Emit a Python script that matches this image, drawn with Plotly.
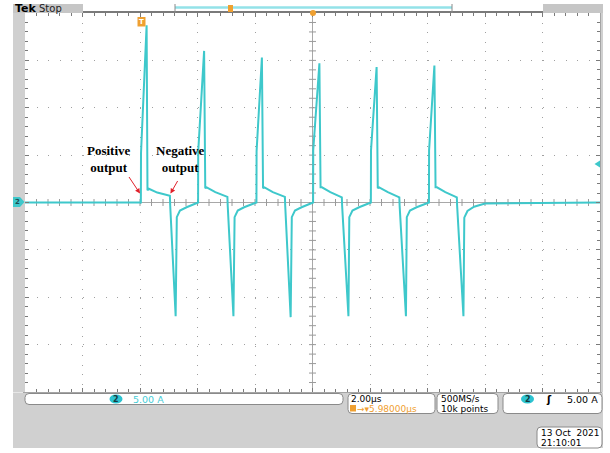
import plotly.graph_objects as go

W, H = 610, 453

# ---------------- data (read from the screen) ----------------
# time in µs measured from the left edge of the screen (2.00 µs/div, 10 div)
# current in A (5.00 A/div, 8 div, centre = 0 A)
t_us = [0.00, 4.03, 4.035, 4.23, 4.26, 4.31, 4.60, 5.04, 5.05, 5.24, 5.28, 5.39, 5.62, 6.02,
        6.025, 6.23, 6.27, 6.32, 6.62, 7.04, 7.05, 7.25, 7.29, 7.40, 7.62, 8.05,
        8.055, 8.24, 8.28, 8.33, 8.62, 9.04, 9.05, 9.24, 9.28, 9.39, 9.62, 10.02,
        10.025, 10.24, 10.28, 10.33, 10.62, 11.02, 11.03, 11.25, 11.28, 11.39, 11.62, 12.03,
        12.035, 12.23, 12.27, 12.32, 12.62, 13.02, 13.03, 13.25, 13.28, 13.39, 13.62, 14.05,
        14.055, 14.24, 14.28, 14.33, 14.62, 15.02, 15.03, 15.25, 15.28, 15.39, 15.62, 16.0, 20.0]
i_A = [0.0, 0.0, 5.2, 18.7, 1.3, 1.45, 1.05, 0.7, -0.3, -12.0, -1.55, -0.85, -0.5, 0.0,
       5.4, 16.0, 1.5, 1.6, 1.1, 0.6, -0.3, -12.0, -1.55, -0.85, -0.5, 0.0,
       5.4, 15.3, 1.5, 1.6, 1.1, 0.6, -0.3, -12.1, -1.55, -0.85, -0.5, 0.0,
       5.5, 14.7, 1.6, 1.6, 1.1, 0.55, -0.3, -12.0, -1.55, -0.85, -0.5, 0.0,
       5.5, 14.3, 1.5, 1.6, 1.1, 0.55, -0.3, -12.0, -1.55, -0.85, -0.5, 0.0,
       5.5, 14.45, 1.6, 1.6, 1.1, 0.55, -0.3, -12.0, -1.6, -0.9, -0.45, -0.1, 0.0]

ch_scale_label = "5.00 A"
time_scale_label = "2.00µs"
trig_delay_label = "→▾5.98000µs"
sample_rate_label = "500MS/s"
record_label = "10k points"
trig_level_label = "5.00 A"
date_label = "13 Oct  2021"
time_label = "21:10:01"

# ---------------- helpers ----------------
def px(x):
    return x / W

def py(y):
    return 1 - y / H

GRAY = "#D0D0D0"
FRAME = "#7A7A7A"
CYAN = "#3EC8CB"
CYAN_TXT = "#45CCD6"
ORANGE = "#EFA031"

shapes = []
annotations = []

def rect(x0, y0, x1, y1, fill, line=None, lw=0):
    shapes.append(dict(type="rect", xref="paper", yref="paper",
                       x0=px(x0), x1=px(x1), y0=py(y1), y1=py(y0),
                       fillcolor=fill, line=dict(color=line or fill, width=lw), layer="above"))

def rrect(x0, y0, x1, y1, r=4, fill="white", line="#8A8A8A"):
    rx, ry = r / W, r / H
    X0, X1, Y0, Y1 = px(x0), px(x1), py(y0), py(y1)
    p = (f"M{X0+rx},{Y0} L{X1-rx},{Y0} Q{X1},{Y0} {X1},{Y0-ry} "
         f"L{X1},{Y1+ry} Q{X1},{Y1} {X1-rx},{Y1} L{X0+rx},{Y1} "
         f"Q{X0},{Y1} {X0},{Y1+ry} L{X0},{Y0-ry} Q{X0},{Y0} {X0+rx},{Y0} Z")
    shapes.append(dict(type="path", xref="paper", yref="paper", path=p,
                       fillcolor=fill, line=dict(color=line, width=1), layer="above"))

def line(x0, y0, x1, y1, color, w=1):
    shapes.append(dict(type="line", xref="paper", yref="paper",
                       x0=px(x0), x1=px(x1), y0=py(y0), y1=py(y1),
                       line=dict(color=color, width=w), layer="above"))

def text(x, y, s, size=10, color="black", xanchor="left", family="DejaVu Sans", bold=False):
    if bold:
        s = f"<b>{s}</b>"
    annotations.append(dict(xref="paper", yref="paper", x=px(x), y=py(y), text=s,
                            showarrow=False, xanchor=xanchor, yanchor="middle",
                            borderpad=0,
                            font=dict(family=family, size=size, color=color)))

# ---------------- frame (gray surround) ----------------
rect(13, 4, 83, 13, "#C6C6C6")
rect(543, 4, 603, 13, "#C6C6C6")
rect(13, 13, 25, 392, GRAY)
rect(600.5, 13, 603, 392, GRAY)
rect(13, 392.5, 603, 448, GRAY)

# top record bar
line(175, 7.5, 452, 7.5, "#93E2E8", 2.5)
line(175, 4, 175, 13, "#8A8A8A", 1)
line(452, 4, 452, 13, "#8A8A8A", 1)
rect(228, 5, 233, 12, ORANGE)
shapes.append(dict(type="circle", xref="paper", yref="paper",
                   x0=px(310), x1=px(316), y0=py(16), y1=py(10),
                   fillcolor=ORANGE, line=dict(color=ORANGE, width=0), layer="above"))
text(13.5, 8.5, "Tek", 11, "black", bold=True)
text(38, 8.5, "Stop", 10, "#222222")

# trigger 'T' marker on the graticule
rect(137.5, 17, 145.5, 26.5, ORANGE)
text(141.5, 21.8, "T", 7, "white", xanchor="center", bold=True)

# channel 2 ground marker (left) and trigger level marker (right)
shapes.append(dict(type="path", xref="paper", yref="paper",
                   path=f"M{px(13)},{py(197)} L{px(20)},{py(197)} L{px(24.5)},{py(202)} "
                        f"L{px(20)},{py(207)} L{px(13)},{py(207)} Z",
                   fillcolor=CYAN, line=dict(color=CYAN, width=0), layer="above"))
text(17, 202, "2", 7, "#1E4B50", xanchor="center", bold=True)
shapes.append(dict(type="path", xref="paper", yref="paper",
                   path=f"M{px(600)},{py(160.5)} L{px(594.5)},{py(164)} L{px(600)},{py(167.5)} Z",
                   fillcolor=CYAN, line=dict(color=CYAN, width=0), layer="above"))

# bottom read-out boxes
rrect(25, 393.5, 343, 404.5, 4)
shapes.append(dict(type="circle", xref="paper", yref="paper",
                   x0=px(109.5), x1=px(122.5), y0=py(403.5), y1=py(394.5),
                   fillcolor="#2DC3D0", line=dict(color="#2DC3D0", width=0), layer="above"))
text(116, 399.2, "2", 8, "#143A40", xanchor="center", bold=True)
text(132, 399.2, ch_scale_label, 9.5, CYAN_TXT)

rrect(348, 393.5, 435, 413.5, 4)
text(350, 398.5, time_scale_label, 9, "black")
rect(350, 405, 356, 411.5, ORANGE)
text(356, 408.5, trig_delay_label, 9, ORANGE)

rrect(437, 393.5, 498, 413.5, 4)
text(440, 398.5, sample_rate_label, 9, "black")
text(440, 408.5, record_label, 9, "black")

rrect(503, 393.5, 602, 413.5, 4)
shapes.append(dict(type="circle", xref="paper", yref="paper",
                   x0=px(521), x1=px(534), y0=py(403.5), y1=py(394.5),
                   fillcolor="#2DC3D0", line=dict(color="#2DC3D0", width=0), layer="above"))
text(527.5, 399.2, "2", 8, "#143A40", xanchor="center", bold=True)
text(549, 399.5, "ʃ", 10, "black", xanchor="center", bold=True)
text(599, 399, trig_level_label, 9.5, "black", xanchor="right")

rrect(537, 427, 602, 448, 4)
text(540, 432.5, date_label, 9, "black")
text(540, 442.5, time_label, 9, "black")

# ---------------- figure ----------------
fig = go.Figure()

# centre cross tick marks (graticule)
xt = [k * 0.4 for k in range(1, 50)]
yt = [k * 1.0 - 20 for k in range(1, 40)]
fig.add_trace(go.Scatter(x=xt, y=[0] * len(xt), mode="markers", hoverinfo="skip",
                         marker=dict(symbol="line-ns", size=5, line=dict(color="#9A9A9A", width=1))))
fig.add_trace(go.Scatter(x=[10] * len(yt), y=yt, mode="markers", hoverinfo="skip",
                         marker=dict(symbol="line-ew", size=5, line=dict(color="#9A9A9A", width=1))))

# waveform
fig.add_trace(go.Scatter(x=t_us, y=i_A, mode="lines",
                         line=dict(color=CYAN, width=2), hoverinfo="skip"))

# centre lines
shapes.append(dict(type="line", xref="x", yref="y", x0=10, x1=10, y0=-20, y1=20,
                   line=dict(color="#A8A8A8", width=1), layer="below"))
shapes.append(dict(type="line", xref="x", yref="y", x0=0, x1=20, y0=0, y1=0,
                   line=dict(color="#A8A8A8", width=1), layer="below"))

# text annotations with arrows
annotations.append(dict(xref="paper", yref="paper", x=px(109), y=py(158.5),
                        xanchor="center", yanchor="middle",
                        text="<b>Positive<br>output</b>", showarrow=False,
                        font=dict(family="Liberation Serif", size=13, color="black")))
annotations.append(dict(xref="paper", yref="paper", x=px(180), y=py(158.5),
                        xanchor="center", yanchor="middle",
                        text="<b>Negative<br>output</b>", showarrow=False,
                        font=dict(family="Liberation Serif", size=13, color="black")))
annotations.append(dict(xref="x", yref="y", x=4.0, y=0.95, text="", showarrow=True,
                        axref="pixel", ayref="pixel", ax=-12, ay=-18,
                        arrowhead=2, arrowsize=1, arrowwidth=1, arrowcolor="#E0202A"))
annotations.append(dict(xref="x", yref="y", x=5.06, y=0.95, text="", showarrow=True,
                        axref="pixel", ayref="pixel", ax=8, ay=-14,
                        arrowhead=2, arrowsize=1, arrowwidth=1, arrowcolor="#E0202A"))

fig.update_layout(
    width=W, height=H, margin=dict(l=0, r=0, t=0, b=0),
    paper_bgcolor="white", plot_bgcolor="white", showlegend=False,
    shapes=shapes, annotations=annotations,
    xaxis=dict(domain=[px(25), px(600)], range=[0, 20], dtick=2, tick0=0,
               showgrid=True, gridcolor="#A0A0A0", gridwidth=1, griddash="1px,8.5px",
               zeroline=False, showticklabels=False,
               ticks="inside", ticklen=4, tickcolor=FRAME,
               showline=True, linecolor=FRAME, linewidth=1.5, mirror="ticks",
               minor=dict(dtick=0.4, ticks="inside", ticklen=3, tickcolor=FRAME, showgrid=False),
               fixedrange=True),
    yaxis=dict(domain=[py(392), py(13)], range=[-20, 20], dtick=5, tick0=0,
               showgrid=True, gridcolor="#A0A0A0", gridwidth=1, griddash="1px,10.5px",
               zeroline=False, showticklabels=False,
               ticks="inside", ticklen=4, tickcolor=FRAME,
               showline=True, linecolor=FRAME, linewidth=1.5, mirror="ticks",
               minor=dict(dtick=1, ticks="inside", ticklen=3, tickcolor=FRAME, showgrid=False),
               fixedrange=True),
)

fig.write_html("out.html")
